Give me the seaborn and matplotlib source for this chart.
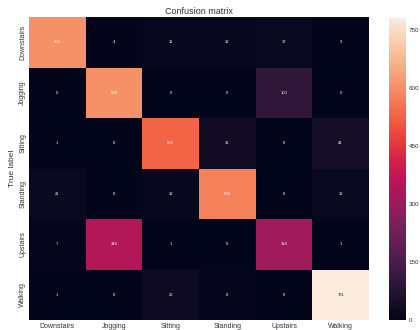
import numpy as np
import pandas as pd
import matplotlib
matplotlib.use("Agg")
import matplotlib.pyplot as plt
import seaborn as sns

labels = ["Downstairs", "Jogging", "Sitting", "Standing", "Upstairs", "Walking"]
row_downstairs = [604, 4, 11, 12, 17, 3]
row_jogging = [0, 604, 0, 0, 100, 0]
row_sitting = [1, 0, 526, 31, 0, 41]
row_standing = [21, 0, 12, 574, 0, 16]
row_upstairs = [7, 344, 1, 0, 314, 1]
row_walking = [1, 0, 26, 8, 0, 781]
cbar_ticks = [0, 150, 300, 450, 600, 750]

cm = pd.DataFrame(
    [row_downstairs, row_jogging, row_sitting, row_standing, row_upstairs, row_walking],
    index=labels, columns=labels,
)

sns.set_style("white")
plt.rcParams["font.family"] = ["Liberation Sans", "DejaVu Sans"]

fig = plt.figure(figsize=(4.2, 3.3), dpi=100)
W, H = 420, 330
ax = fig.add_axes([29 / W, 1 - 320 / H, (369 - 29) / W, (320 - 17) / H])
cax = fig.add_axes([389 / W, 1 - 320 / H, (406 - 389) / W, (320 - 18) / H])

sns.heatmap(cm, annot=True, fmt="d", cmap="rocket", ax=ax, cbar_ax=cax,
            annot_kws={"fontsize": 3}, cbar_kws={"ticks": cbar_ticks})

ax.set_title("Confusion matrix", fontsize=6.5, pad=2, color="#333333")
ax.set_ylabel("True label", fontsize=6, labelpad=2, color="#333333")
ax.set_xlabel("")
ax.tick_params(axis="both", length=0, labelsize=5, pad=2, colors="#333333")
ax.set_xticklabels(labels, rotation=0)
ax.set_yticklabels(labels, rotation=90, va="center")
cax.tick_params(length=0, labelsize=4.5, pad=2, colors="#333333")
for s in cax.spines.values():
    s.set_visible(False)

fig.savefig("out.png", dpi=100)
